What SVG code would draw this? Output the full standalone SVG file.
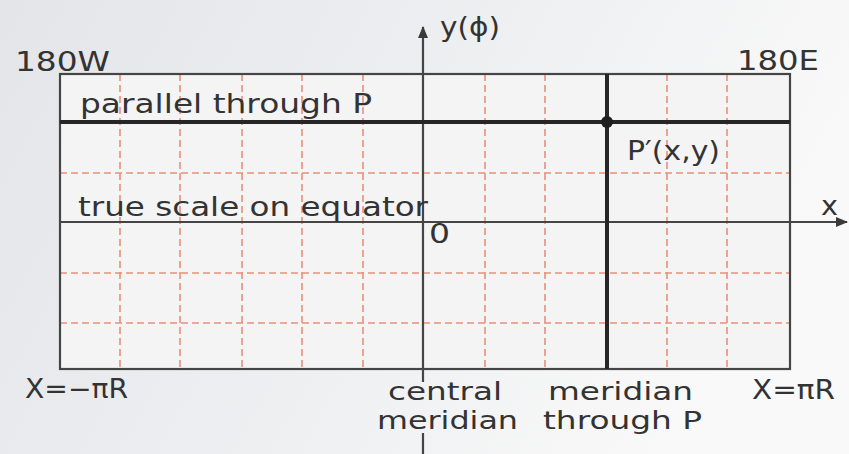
<svg xmlns="http://www.w3.org/2000/svg" width="849" height="454" viewBox="0 0 849 454">
<defs>
<linearGradient id="bg" x1="0" y1="0" x2="1" y2="0.3">
<stop offset="0" stop-color="#e3e5e9"/>
<stop offset="0.55" stop-color="#eeeff1"/>
<stop offset="1" stop-color="#f9f9f9"/>
</linearGradient>
<marker id="arr" viewBox="0 0 12 10" refX="11" refY="5" markerWidth="12" markerHeight="10" markerUnits="userSpaceOnUse" orient="auto">
<path d="M0,0 L12,5 L0,10 z" fill="#3a3a3a"/>
</marker>
<style>
.t{font-family:"DejaVu Sans",Verdana,sans-serif;font-size:26px;fill:#333333}
.s{font-size:24px}
.grid{stroke:#e8907a;stroke-width:1.6;stroke-dasharray:7 4;fill:none}
.thin{stroke:#454545;stroke-width:2.2;fill:none}
.thick{stroke:#262626;stroke-width:4;fill:none}
</style>
</defs>
<rect x="0" y="0" width="849" height="454" fill="url(#bg)"/>
<g id="frame">
<rect x="60" y="74" width="730" height="295" fill="#f4f4f5"/>
</g>
<g id="grid">
<path class="grid" d="M120,74V369 M180,74V369 M242,74V369 M302,74V369 M363,74V369 M485,74V369 M545,74V369 M667,74V369 M727,74V369"/>
<path class="grid" d="M60,173H790 M60,273H790 M60,323H790"/>
</g>
<g id="connectors">
<rect class="thin" x="60" y="74" width="730" height="295"/>
<line class="thin" x1="60" y1="222" x2="847" y2="222" marker-end="url(#arr)"/>
<line class="thin" x1="423" y1="382" x2="423" y2="27" marker-end="url(#arr)"/>
<line class="thin" x1="423" y1="433" x2="423" y2="454"/>
<line class="thick" x1="60" y1="122" x2="790" y2="122"/>
<line class="thick" x1="607" y1="74" x2="607" y2="369"/>
</g>
<g id="point-P">
<circle cx="607" cy="122" r="6" fill="#1e1e1e"/>
<text class="t" x="627" y="160" textLength="93" lengthAdjust="spacingAndGlyphs">P′(x,y)</text>
</g>
<g id="labels">
<text class="t" x="15" y="71" textLength="95" lengthAdjust="spacingAndGlyphs">180W</text>
<text class="t" x="737" y="70" textLength="82" lengthAdjust="spacingAndGlyphs">180E</text>
<text class="t" x="440" y="36" textLength="60" lengthAdjust="spacingAndGlyphs">y(ϕ)</text>
<text class="t" x="80" y="113" textLength="292" lengthAdjust="spacingAndGlyphs">parallel through P</text>
<text class="t" x="78" y="216" textLength="350" lengthAdjust="spacingAndGlyphs">true scale on equator</text>
<text class="t" x="429" y="243" textLength="21" lengthAdjust="spacingAndGlyphs">0</text>
<text class="t" x="821" y="215" textLength="17" lengthAdjust="spacingAndGlyphs">x</text>
<text class="t" x="25" y="398" textLength="103" lengthAdjust="spacingAndGlyphs">X=−πR</text>
<text class="t" x="752" y="399" textLength="83" lengthAdjust="spacingAndGlyphs">X=πR</text>
<text class="t s" x="388" y="400" textLength="114" lengthAdjust="spacingAndGlyphs">central</text>
<text class="t s" x="377" y="429" textLength="141" lengthAdjust="spacingAndGlyphs">meridian</text>
<text class="t s" x="548" y="400" textLength="145" lengthAdjust="spacingAndGlyphs">meridian</text>
<text class="t s" x="543" y="429" textLength="159" lengthAdjust="spacingAndGlyphs">through P</text>
</g>
</svg>
